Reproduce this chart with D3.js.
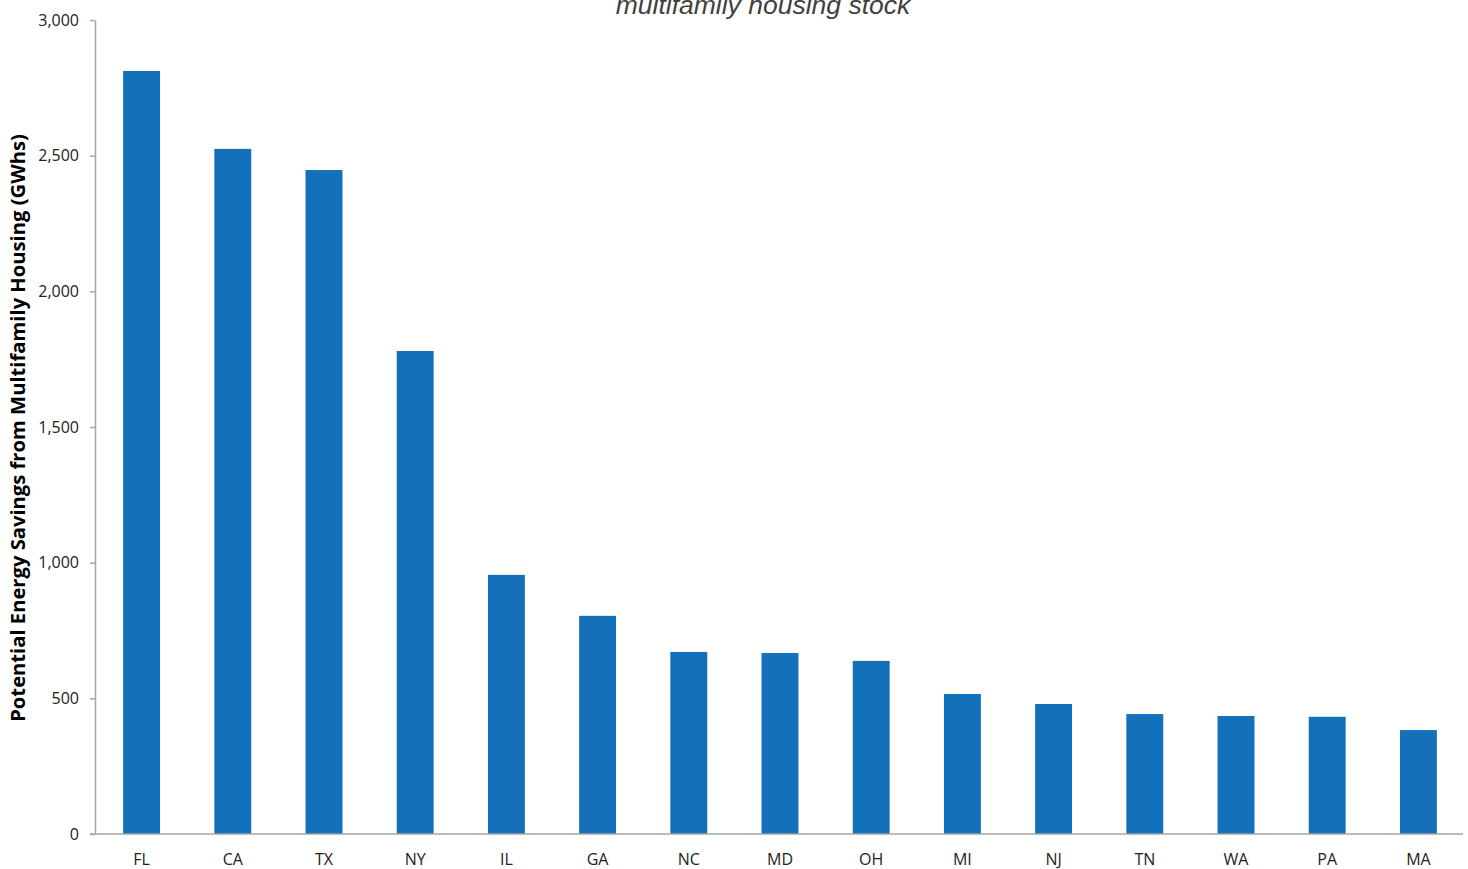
<!DOCTYPE html>
<html>
<head>
<meta charset="utf-8">
<script src="https://cdn.jsdelivr.net/npm/d3@7"></script>
<style>
  body { margin: 0; background: #fff; }
</style>
</head>
<body>
<div id="chart"></div>
<script>
// state codes and potential savings (GWh)
const states = ["FL", "CA", "TX", "NY", "IL", "GA", "NC", "MD", "OH", "MI", "NJ", "TN", "WA", "PA", "MA"];
const savings = [2812, 2525, 2447, 1780, 955, 804, 671, 667, 638, 516, 479, 442, 435, 432, 383];
const yTicks = [0, 500, 1000, 1500, 2000, 2500, 3000];

const margin = {top: 20, right: 5, bottom: 35, left: 95},
    width = 1468 - margin.left - margin.right,
    height = 869 - margin.top - margin.bottom;

const svg = d3.select("#chart")
    .append("svg")
        .attr("width", 1468)
        .attr("height", 869)
    .append("g")
        .attr("transform", "translate(" + margin.left + "," + margin.top + ")");

const xScale = d3.scaleBand().domain(states).range([1, width + 1]).paddingInner(0.595).paddingOuter(0.2975);
const yScale = d3.scaleLinear().domain([0, 3000]).range([height, 0]);

// bars
svg.selectAll("rect.bar")
    .data(states)
    .enter().append("rect")
        .attr("class", "bar")
        .attr("x", d => xScale(d))
        .attr("y", (d, i) => yScale(savings[i]))
        .attr("width", xScale.bandwidth())
        .attr("height", (d, i) => height - yScale(savings[i]))
        .style("fill", "#1470b8");

// y axis
const yAxis = svg.append("g")
    .call(d3.axisLeft(yScale).tickValues(yTicks).tickSize(5).tickSizeOuter(0).tickPadding(11).tickFormat(d3.format(",")));
yAxis.select(".domain").style("stroke", "#a6a6a6").style("stroke-width", 1.5);
yAxis.selectAll(".tick line").style("stroke", "#a6a6a6").style("stroke-width", 1.5);
yAxis.selectAll("text")
    .attr("font-family", "Open Sans")
    .attr("font-size", "16px")
    .style("fill", "#222");

// x axis
const xAxis = svg.append("g")
    .attr("transform", "translate(0," + height + ")")
    .call(d3.axisBottom(xScale).tickSize(0).tickPadding(20));
xAxis.select(".domain").style("stroke", "#a6a6a6").style("stroke-width", 1.5).attr("d", "M-5,0H" + width);
xAxis.selectAll("text")
    .attr("font-family", "Open Sans")
    .attr("font-size", "16px")
    .style("fill", "#222");

// title (partly cut off at the top, as in the original)
svg.append("text")
    .attr("x", 763 - margin.left)
    .attr("y", 14 - margin.top)
    .style("text-anchor", "middle")
    .attr("font-family", "Liberation Sans")
    .attr("font-style", "italic")
    .attr("font-size", "26.5px")
    .attr("fill", "#404040")
    .text("multifamily housing stock");

// y axis label
svg.append("text")
    .attr("transform", "rotate(-90)")
    .attr("x", -(428 - margin.top))
    .attr("y", 25 - margin.left)
    .style("text-anchor", "middle")
    .attr("font-family", "Open Sans")
    .attr("font-weight", "bold")
    .attr("font-size", "20.2px")
    .attr("fill", "#000")
    .text("Potential Energy Savings from Multifamily Housing (GWhs)");
</script>
</body>
</html>
